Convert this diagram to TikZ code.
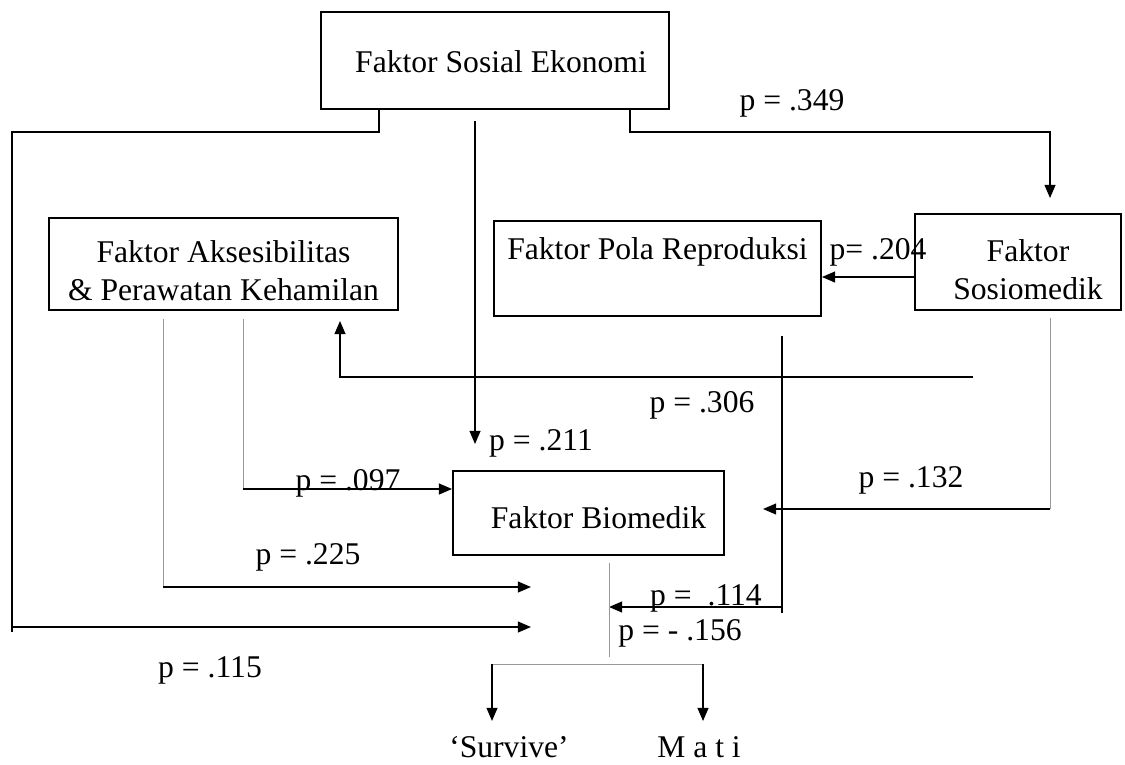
\documentclass[tikz,border=0pt]{standalone}
\usepackage{fontspec}
\setmainfont{Liberation Serif}
\usetikzlibrary{arrows.meta}
\begin{document}
\begin{tikzpicture}[x=0.02cm,y=-0.02cm,
  box/.style={draw,line width=1.1pt,inner sep=0pt},
  lab/.style={inner sep=0pt,align=center,font=\fontsize{18}{21.6}\selectfont},
  link/.style={line width=0.9pt},
  arr/.style={link,-{Triangle[length=7.5pt,width=6.2pt]}},
  faint/.style={line width=0.5pt,gray!80}]
\useasboundingbox (0,0) rectangle (1125,764);

% factor boxes, each with its caption set inside
\node[box,minimum width=6.96cm,minimum height=1.94cm,
  label={[lab,xshift=0.12cm,yshift=-0.03cm]center:Faktor Sosial Ekonomi}] (se) at (495,60.5) {};
\node[box,minimum width=6.98cm,minimum height=1.84cm,
  label={[lab,yshift=-0.14cm]center:Faktor Aksesibilitas\\\& Perawatan Kehamilan}] (ak) at (223.5,264) {};
\node[box,minimum width=6.54cm,minimum height=1.90cm,
  label={[lab,yshift=0.33cm]center:Faktor Pola Reproduksi}] (po) at (657.5,268.5) {};
\node[box,minimum width=4.12cm,minimum height=1.92cm,
  label={[lab,xshift=0.2cm,yshift=-0.16cm]center:Faktor\\Sosiomedik}] (sm) at (1018,262) {};
\node[box,minimum width=5.42cm,minimum height=1.68cm,
  label={[lab,xshift=0.2cm,yshift=-0.1cm]center:Faktor Biomedik}] (bm) at (588.5,513) {};

% outcomes
\node[lab] (sv) at (509,747) {‘Survive’};
\node[lab] (mt) at (699,747) {M a t i};

% Sosial Ekonomi -> Sosiomedik
\coordinate (a1) at (630,132);
\coordinate (a2) at (1050,132);
\draw[arr,shorten >=0.3cm] (se.south -| a1) -- (a1) -- (a2) -- (sm.north -| a2);
\node[lab] (l349) at (792,103) {p = .349};

% Sosial Ekonomi -> outcome (left route)
\coordinate (b1) at (379,132);
\coordinate (b2) at (12,132);
\coordinate (b3) at (12,627);
\coordinate (b4) at (531,627);
\draw[link] (b3) -- (12,632);
\draw[arr] (se.south -| b1) -- (b1) -- (b2) -- (b3) -- (b4);
\node[lab] (l115) at (210,670) {p = .115};

% Sosial Ekonomi -> Biomedik
\coordinate (c1) at (475,300);
\draw[arr,shorten <=0.22cm,shorten >=0.52cm] (se.south -| c1) -- (bm.north -| c1);
\node[lab] (l211) at (541,443) {p = .211};

% Sosiomedik -> Pola Reproduksi
\coordinate (d1) at (900,277);
\draw[arr] (sm.west |- d1) -- (po.east |- d1);
\node[lab] (l204) at (878,252) {p= .204};

% Sosiomedik -> Aksesibilitas
\coordinate (e1) at (973,377);
\coordinate (e2) at (340,377);
\draw[arr,shorten >=0.2cm] (e1) -- (e2) -- (ak.south -| e2);
\node[lab] (l306) at (702,405) {p = .306};

% Pola Reproduksi -> outcome
\coordinate (f1) at (782,607);
\coordinate (f2) at (609,607);
\draw[link,shorten <=0.38cm] (po.south -| f1) -- (782,613);
\draw[arr] (f1) -- (f2);
\node[lab,anchor=base] (l114) at (706,605) {p =\ \ .114};

% Sosiomedik -> Biomedik
\coordinate (g1) at (1050,509);
\coordinate (g2) at (763,509);
\draw[faint,shorten <=0.14cm] (sm.south -| g1) -- (g1);
\draw[arr] (g1) -- (g2);
\node[lab] (l132) at (911,480) {p = .132};

% Aksesibilitas -> Biomedik
\coordinate (h1) at (243,489);
\draw[faint,shorten <=0.16cm] (ak.south -| h1) -- (h1);
\draw[arr] (h1) -- (bm.west |- h1);
\node[lab,anchor=base] (l097) at (348,490) {p = .097};

% Aksesibilitas -> outcome
\coordinate (i1) at (163,587);
\coordinate (i2) at (531,587);
\draw[faint,shorten <=0.16cm] (ak.south -| i1) -- (i1);
\draw[arr] (i1) -- (i2);
\node[lab] (l225) at (308,557) {p = .225};

% Biomedik -> outcome split
\coordinate (j1) at (609,657);
\draw[faint,shorten <=0.14cm] (bm.south -| j1) -- (j1);
\node[lab] (l156) at (680,633) {p = - .156};
\coordinate (k1) at (492,664);
\coordinate (k2) at (703,664);
\draw[faint] (k1) -- (k2);
\draw[arr,shorten >=0.3cm] (k1) -- (k1 |- sv.north);
\draw[arr,shorten >=0.3cm] (k2) -- (k2 |- mt.north);
\end{tikzpicture}
\end{document}
